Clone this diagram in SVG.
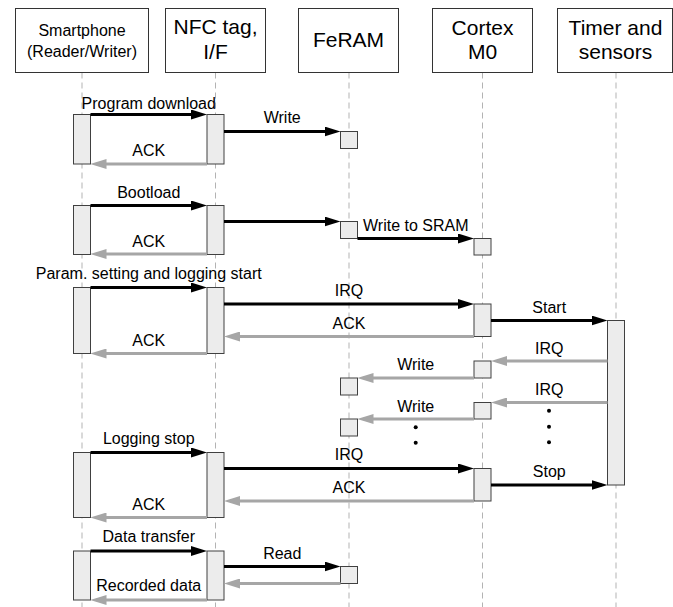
<svg xmlns="http://www.w3.org/2000/svg" width="673" height="607" viewBox="0 0 673 607">
<style>
.hdr{fill:#fff;stroke:#333;stroke-width:1}
.life{stroke:#b3b3b3;stroke-width:1;stroke-dasharray:6,4;fill:none}
.act{fill:#ececec;stroke:#404040;stroke-width:1}
.t{font-family:"Liberation Sans",Arial,sans-serif;fill:#000;text-anchor:middle}
.h16{font-size:16px}
.h21{font-size:21px}
.lbl{font-size:16px}
.blk{stroke:#000;stroke-width:3;fill:none;marker-end:url(#ab)}
.gry{stroke:#a6a6a6;stroke-width:3;fill:none;marker-end:url(#ag)}
</style>
<defs>
<marker id="ab" viewBox="0 0 16 10" markerWidth="16" markerHeight="10" refX="10" refY="5" orient="auto" markerUnits="userSpaceOnUse"><path d="M0,0 L16,5 L0,10 z" fill="#000"/></marker>
<marker id="ag" viewBox="0 0 16 10" markerWidth="16" markerHeight="10" refX="10" refY="5" orient="auto" markerUnits="userSpaceOnUse"><path d="M0,0 L16,5 L0,10 z" fill="#a6a6a6"/></marker>
</defs>
<rect width="673" height="607" fill="#fff"/>

<g id="smartphone">
<line class="life" x1="82" y1="72.5" x2="82" y2="607"/>
<rect class="hdr" x="15.5" y="8.5" width="133" height="64"/>
<text class="t h16" x="82" y="36">Smartphone</text>
<text class="t h16" x="82" y="57">(Reader/Writer)</text>
<rect class="act" x="73.5" y="114.5" width="17" height="49.5"/>
<rect class="act" x="73.5" y="205.5" width="17" height="49"/>
<rect class="act" x="73.5" y="287.5" width="17" height="66"/>
<rect class="act" x="73.5" y="452.5" width="17" height="65"/>
<rect class="act" x="73.5" y="551" width="17" height="49"/>
</g>

<g id="nfc">
<line class="life" x1="215.5" y1="72.5" x2="215.5" y2="607"/>
<rect class="hdr" x="165.5" y="8.5" width="100" height="64"/>
<text class="t h21" x="215.5" y="34">NFC tag,</text>
<text class="t h21" x="215.5" y="58.5">I/F</text>
<rect class="act" x="207" y="114.5" width="17" height="49.5"/>
<rect class="act" x="207" y="205.5" width="17" height="49"/>
<rect class="act" x="207" y="287.5" width="17" height="66"/>
<rect class="act" x="207" y="452.5" width="17" height="65"/>
<rect class="act" x="207" y="551" width="17" height="49"/>
</g>

<g id="feram">
<line class="life" x1="349" y1="72.5" x2="349" y2="607"/>
<rect class="hdr" x="298.5" y="8.5" width="100" height="64"/>
<text class="t h21" x="348.5" y="47">FeRAM</text>
<rect class="act" x="340.5" y="131.5" width="17" height="17"/>
<rect class="act" x="340.5" y="221.5" width="17" height="17"/>
<rect class="act" x="340.5" y="378" width="17" height="17"/>
<rect class="act" x="340.5" y="419" width="17" height="17"/>
<rect class="act" x="340.5" y="566.5" width="17" height="17"/>
</g>

<g id="cortex">
<line class="life" x1="482.5" y1="72.5" x2="482.5" y2="607"/>
<rect class="hdr" x="432.5" y="8.5" width="100" height="64"/>
<text class="t h21" x="482.5" y="34.5">Cortex</text>
<text class="t h21" x="482.5" y="59">M0</text>
<rect class="act" x="474" y="238.5" width="17" height="16.5"/>
<rect class="act" x="474" y="304" width="17" height="32.5"/>
<rect class="act" x="474" y="361" width="17" height="17"/>
<rect class="act" x="474" y="402.5" width="17" height="16.5"/>
<rect class="act" x="474" y="468.5" width="17" height="32.5"/>
</g>

<g id="timer">
<line class="life" x1="616" y1="72.5" x2="616" y2="607"/>
<rect class="hdr" x="557.5" y="8.5" width="115" height="64"/>
<text class="t h21" x="615.5" y="34.5">Timer and</text>
<text class="t h21" x="615.5" y="59">sensors</text>
<rect class="act" x="607.5" y="320.5" width="17" height="164.5"/>
</g>

<g id="connectors">
<line class="blk" x1="90.5" y1="114.5" x2="201" y2="114.5"/>
<line class="gry" x1="207" y1="164" x2="96.5" y2="164"/>
<line class="blk" x1="224" y1="131.5" x2="334.5" y2="131.5"/>
<line class="blk" x1="90.5" y1="205.5" x2="201" y2="205.5"/>
<line class="blk" x1="224" y1="221.5" x2="334.5" y2="221.5"/>
<line class="blk" x1="357.5" y1="238.5" x2="468" y2="238.5"/>
<line class="gry" x1="207" y1="254" x2="96.5" y2="254"/>
<line class="blk" x1="90.5" y1="287.5" x2="201" y2="287.5"/>
<line class="blk" x1="224" y1="304" x2="468" y2="304"/>
<line class="blk" x1="491" y1="320.5" x2="601.5" y2="320.5"/>
<line class="gry" x1="474" y1="336.5" x2="230" y2="336.5"/>
<line class="gry" x1="207" y1="353.5" x2="96.5" y2="353.5"/>
<line class="gry" x1="607.5" y1="361" x2="497" y2="361"/>
<line class="gry" x1="474" y1="378" x2="363.5" y2="378"/>
<line class="gry" x1="607.5" y1="402.5" x2="497" y2="402.5"/>
<line class="gry" x1="474" y1="419" x2="363.5" y2="419"/>
<line class="blk" x1="90.5" y1="452.5" x2="201" y2="452.5"/>
<line class="blk" x1="224" y1="468.5" x2="468" y2="468.5"/>
<line class="blk" x1="491" y1="485" x2="601.5" y2="485"/>
<line class="gry" x1="474" y1="501" x2="230" y2="501"/>
<line class="gry" x1="207" y1="517.5" x2="96.5" y2="517.5"/>
<line class="blk" x1="90.5" y1="551" x2="201" y2="551"/>
<line class="blk" x1="224" y1="566.5" x2="334.5" y2="566.5"/>
<line class="gry" x1="340.5" y1="583.5" x2="230" y2="583.5"/>
<line class="gry" x1="207" y1="600" x2="96.5" y2="600"/>

<text class="t lbl" x="148.75" y="108.5">Program download</text>
<text class="t lbl" x="148.75" y="156">ACK</text>
<text class="t lbl" x="282.25" y="123">Write</text>
<text class="t lbl" x="148.75" y="197.5">Bootload</text>
<text class="t lbl" x="415.75" y="231">Write to SRAM</text>
<text class="t lbl" x="148.75" y="246.5">ACK</text>
<text class="t lbl" x="148.75" y="278.5">Param. setting and logging start</text>
<text class="t lbl" x="349" y="296">IRQ</text>
<text class="t lbl" x="549.25" y="312.5">Start</text>
<text class="t lbl" x="349" y="328.5">ACK</text>
<text class="t lbl" x="148.75" y="346">ACK</text>
<text class="t lbl" x="549.25" y="353.5">IRQ</text>
<text class="t lbl" x="415.75" y="370">Write</text>
<text class="t lbl" x="549.25" y="395">IRQ</text>
<text class="t lbl" x="415.75" y="411.5">Write</text>
<text class="t lbl" x="148.75" y="443.5">Logging stop</text>
<text class="t lbl" x="349" y="460">IRQ</text>
<text class="t lbl" x="549.25" y="476.5">Stop</text>
<text class="t lbl" x="349" y="492.5">ACK</text>
<text class="t lbl" x="148.75" y="509.5">ACK</text>
<text class="t lbl" x="148.75" y="541.5">Data transfer</text>
<text class="t lbl" x="282.25" y="558.5">Read</text>
<text class="t lbl" x="148.75" y="590.5">Recorded data</text>

<circle cx="549" cy="410.7" r="2"/>
<circle cx="549" cy="426.7" r="2"/>
<circle cx="549" cy="442.3" r="2"/>
<circle cx="415.7" cy="427.3" r="2"/>
<circle cx="415.7" cy="442.7" r="2"/>
</g>
</svg>
